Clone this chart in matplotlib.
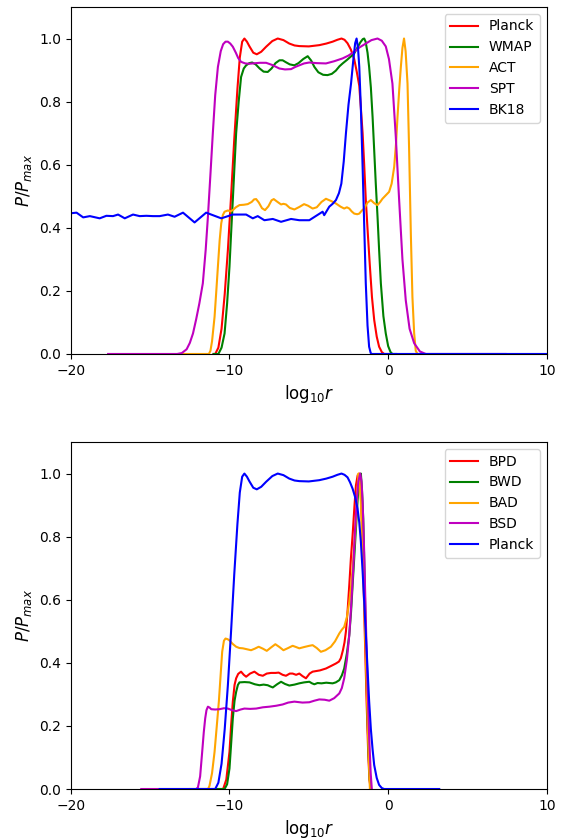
import matplotlib
matplotlib.use('Agg')
import matplotlib.pyplot as plt

#top panel: posteriors for the single experiments
planck_x = [-11.0, -10.9, -10.7, -10.5, -10.3, -10.1, -9.9, -9.7, -9.5, -9.35, -9.2, -9.06, -8.9, -8.74, -8.5, -8.28,
            -8.0, -7.69, -7.3, -6.96, -6.6, -6.23, -5.9, -5.6, -5.0, -4.34, -3.9, -3.5, -3.2, -2.94, -2.75, -2.56,
            -2.35, -2.14, -1.98, -1.82, -1.72, -1.61, -1.51, -1.41, -1.28, -1.15, -1.02, -0.88, -0.72, -0.57, -0.4,
            -0.25, 0.0]
planck_y = [0, 0, 0.02, 0.08, 0.19, 0.33, 0.50, 0.68, 0.84, 0.94, 0.99, 1.0, 0.99, 0.975, 0.955, 0.95,
            0.958, 0.974, 0.992, 1.0, 0.995, 0.984, 0.978, 0.976, 0.975, 0.979, 0.984, 0.99, 0.996, 1.0, 0.996, 0.985,
            0.965, 0.935, 0.895, 0.85, 0.78, 0.70, 0.60, 0.49, 0.38, 0.277, 0.18, 0.108, 0.055, 0.023, 0.006,
            0.0, 0.0]

wmap_x = [-11.0, -10.7, -10.5, -10.31, -10.15, -10.0, -9.9, -9.79, -9.68, -9.58, -9.42, -9.27, -9.1, -8.95, -8.75,
          -8.57, -8.35, -8.1, -7.85, -7.59, -7.35, -7.1, -6.85, -6.65, -6.45, -6.2, -5.91, -5.65, -5.35, -5.07,
          -4.85, -4.65, -4.4, -4.1, -3.82, -3.55, -3.3, -3.07, -2.87, -2.6, -2.35, -2.14, -1.95, -1.75, -1.6,
          -1.51, -1.42, -1.3, -1.2, -1.09, -0.98, -0.88, -0.78, -0.67, -0.57, -0.46, -0.3, -0.15, 0.0, 0.15,
          0.27, 0.5]
wmap_y = [0, 0, 0.02, 0.065, 0.16, 0.277, 0.38, 0.488, 0.60, 0.70, 0.80, 0.878, 0.905, 0.915, 0.922,
          0.924, 0.918, 0.905, 0.895, 0.894, 0.905, 0.922, 0.931, 0.931, 0.925, 0.918, 0.915, 0.922, 0.935, 0.944,
          0.93, 0.91, 0.893, 0.885, 0.884, 0.888, 0.898, 0.912, 0.921, 0.932, 0.943, 0.953, 0.97, 0.988, 0.998,
          1.0, 0.99, 0.955, 0.91, 0.845, 0.75, 0.646, 0.54, 0.435, 0.33, 0.224, 0.12, 0.065, 0.025, 0.006,
          0.0, 0.0]

act_x = [-13.0, -11.3, -11.2, -11.1, -10.94, -10.83, -10.73, -10.62, -10.52, -10.42, -10.31, -10.1, -9.95, -9.79,
         -9.6, -9.37, -9.1, -8.85, -8.6, -8.45, -8.32, -8.15, -7.95, -7.76, -7.55, -7.35, -7.21, -7.0, -6.75,
         -6.6, -6.44, -6.2, -5.91, -5.6, -5.3, -5.05, -4.76, -4.5, -4.2, -3.92, -3.6, -3.29, -3.0, -2.77, -2.6,
         -2.45, -2.3, -2.14, -1.95, -1.82, -1.65, -1.51, -1.3, -1.09, -0.88, -0.67, -0.5, -0.36, -0.15, 0.06,
         0.22, 0.38, 0.5, 0.59, 0.7, 0.8, 0.9, 1.0, 1.1, 1.22, 1.32, 1.43, 1.53, 1.64, 1.74, 1.85, 2.3]
act_y = [0, 0, 0.01, 0.04, 0.118, 0.2, 0.277, 0.36, 0.414, 0.44, 0.451, 0.455, 0.452, 0.456,
         0.465, 0.472, 0.473, 0.475, 0.482, 0.49, 0.491, 0.48, 0.462, 0.456, 0.468, 0.487, 0.491, 0.483, 0.474,
         0.476, 0.474, 0.463, 0.458, 0.466, 0.475, 0.47, 0.461, 0.465, 0.482, 0.492, 0.485, 0.477, 0.467, 0.461,
         0.465, 0.461, 0.452, 0.445, 0.443, 0.445, 0.455, 0.461, 0.48, 0.488, 0.478, 0.472, 0.482, 0.492, 0.503,
         0.514, 0.54, 0.593, 0.67, 0.752, 0.84, 0.91, 0.97, 1.0, 0.96, 0.857, 0.65, 0.38, 0.18, 0.065, 0.01,
         0.0, 0.0]

spt_x = [-17.65, -13.3, -13.0, -12.7, -12.5, -12.3, -12.1, -11.9, -11.68, -11.5, -11.36, -11.2, -11.05, -10.9,
         -10.73, -10.55, -10.4, -10.25, -10.1, -9.95, -9.79, -9.6, -9.45, -9.27, -9.0, -8.75, -8.53, -8.1, -7.69,
         -7.3, -6.86, -6.5, -6.12, -5.85, -5.6, -5.3, -4.97, -4.5, -3.92, -3.4, -2.87, -2.5, -2.14, -1.8, -1.41,
         -1.05, -0.67, -0.4, -0.15, 0.05, 0.27, 0.48, 0.69, 0.9, 1.11, 1.35, 1.64, 2.0, 2.37, 7.4]
spt_y = [0, 0, 0.003, 0.015, 0.035, 0.065, 0.11, 0.16, 0.224, 0.33, 0.435, 0.57, 0.70, 0.82,
         0.91, 0.96, 0.982, 0.99, 0.99, 0.984, 0.974, 0.955, 0.938, 0.926, 0.921, 0.92, 0.921, 0.923, 0.923,
         0.916, 0.905, 0.902, 0.903, 0.91, 0.915, 0.921, 0.924, 0.922, 0.921, 0.928, 0.937, 0.946, 0.958, 0.972,
         0.984, 0.995, 1.0, 0.993, 0.975, 0.935, 0.857, 0.69, 0.49, 0.30, 0.17, 0.08, 0.034, 0.008, 0.0, 0.0]

bk18_x = [-20, -19.64, -19.22, -18.8, -18.18, -17.76, -17.34, -17.02, -16.6, -16.08, -15.66, -15.24, -14.82,
          -14.4, -13.88, -13.46, -12.93, -12.2, -11.47, -10.52, -9.79, -8.95, -8.53, -8.22, -7.8, -7.27, -6.75,
          -6.12, -5.6, -4.97, -4.13, -4.03, -3.71, -3.5, -3.29, -3.1, -2.95, -2.8, -2.66, -2.5, -2.34, -2.2,
          -2.08, -1.99, -1.9, -1.82, -1.72, -1.61, -1.51, -1.41, -1.3, -1.2, -1.1, -1.03, 10]
bk18_y = [0.446, 0.448, 0.433, 0.437, 0.430, 0.438, 0.437, 0.442, 0.430, 0.442, 0.437, 0.438, 0.437,
          0.437, 0.442, 0.435, 0.448, 0.417, 0.448, 0.430, 0.442, 0.442, 0.430, 0.437, 0.424, 0.428, 0.419,
          0.428, 0.424, 0.424, 0.451, 0.44, 0.467, 0.476, 0.488, 0.51, 0.54, 0.61, 0.70, 0.79, 0.857, 0.93,
          0.985, 1.0, 0.97, 0.91, 0.78, 0.593, 0.41, 0.224, 0.09, 0.023, 0.003, 0.0, 0.0]

#bottom panel: combined posteriors
bpd_x = [-12.0, -10.4, -10.2, -10.0, -9.9, -9.79, -9.68, -9.58, -9.45, -9.27, -9.1, -8.95, -8.7, -8.43, -8.15,
         -7.9, -7.65, -7.38, -7.1, -6.9, -6.65, -6.44, -6.2, -6.02, -5.8, -5.6, -5.4, -5.18, -4.95, -4.76, -4.3,
         -3.92, -3.6, -3.29, -3.1, -2.98, -2.85, -2.75, -2.66, -2.55, -2.45, -2.35, -2.24, -2.12, -2.03, -1.92,
         -1.82, -1.74, -1.66, -1.56, -1.47, -1.36, -1.26, -1.18, -1.1]
bpd_y = [0, 0, 0.03, 0.118, 0.2, 0.277, 0.33, 0.351, 0.365, 0.372, 0.362, 0.356, 0.366, 0.372, 0.362,
         0.359, 0.366, 0.368, 0.368, 0.369, 0.362, 0.359, 0.366, 0.366, 0.362, 0.366, 0.358, 0.351, 0.366, 0.372, 0.376,
         0.382, 0.39, 0.398, 0.404, 0.415, 0.44, 0.465, 0.50, 0.57, 0.646, 0.73, 0.805, 0.9, 0.963, 0.995,
         1.0, 0.95, 0.857, 0.68, 0.488, 0.28, 0.118, 0.03, 0.0]

bwd_x = [-12.0, -10.31, -10.15, -10.0, -9.9, -9.79, -9.68, -9.58, -9.47, -9.37, -9.05, -8.74, -8.4, -8.11, -7.85,
         -7.59, -7.42, -7.27, -7.0, -6.75, -6.5, -6.23, -5.9, -5.6, -5.3, -4.97, -4.8, -4.65, -4.45, -4.2, -3.9,
         -3.5, -3.3, -3.08, -2.92, -2.77, -2.6, -2.45, -2.34, -2.24, -2.13, -2.03, -1.92, -1.82, -1.72, -1.65,
         -1.57, -1.49, -1.41, -1.33, -1.24, -1.16, -1.09]
bwd_y = [0, 0, 0.015, 0.065, 0.14, 0.224, 0.28, 0.308, 0.33, 0.338, 0.339, 0.338, 0.332, 0.329, 0.331,
         0.329, 0.325, 0.322, 0.332, 0.340, 0.333, 0.328, 0.331, 0.335, 0.338, 0.340, 0.335, 0.332, 0.336, 0.335, 0.337,
         0.335, 0.338, 0.345, 0.36, 0.382, 0.43, 0.488, 0.56, 0.646, 0.74, 0.826, 0.92, 0.984, 1.0, 0.95,
         0.857, 0.68, 0.488, 0.29, 0.118, 0.03, 0.0]

bad_x = [-12.5, -11.35, -11.26, -11.1, -10.94, -10.8, -10.67, -10.56, -10.46, -10.35, -10.25, -10.12, -10.0, -9.8,
         -9.58, -9.38, -9.16, -8.9, -8.64, -8.4, -8.16, -7.9, -7.65, -7.4, -7.11, -6.85, -6.6, -6.3, -6.02, -5.8,
         -5.6, -5.3, -4.97, -4.76, -4.5, -4.24, -3.95, -3.61, -3.35, -3.08, -2.92, -2.77, -2.6, -2.45, -2.34,
         -2.24, -2.13, -2.03, -1.95, -1.87, -1.8, -1.72, -1.62, -1.51, -1.4, -1.3, -1.22, -1.15]
bad_y = [0, 0, 0.01, 0.05, 0.118, 0.2, 0.277, 0.36, 0.435, 0.47, 0.477, 0.475, 0.471, 0.46,
         0.451, 0.447, 0.446, 0.443, 0.440, 0.445, 0.451, 0.445, 0.438, 0.448, 0.459, 0.45, 0.440, 0.447, 0.454, 0.45,
         0.446, 0.45, 0.454, 0.456, 0.447, 0.435, 0.44, 0.451, 0.468, 0.493, 0.505, 0.514, 0.545, 0.593, 0.64,
         0.70, 0.78, 0.857, 0.94, 1.0, 0.98, 0.91, 0.77, 0.593, 0.4, 0.224, 0.09, 0.0]

bsd_x = [-15.56, -12.1, -11.99, -11.85, -11.72, -11.62, -11.53, -11.45, -11.36, -11.25, -11.15, -10.9, -10.63,
         -10.35, -10.1, -9.85, -9.58, -9.3, -9.06, -8.7, -8.32, -7.9, -7.48, -7.05, -6.65, -6.3, -5.91, -5.4,
         -4.97, -4.65, -4.34, -4.0, -3.71, -3.4, -3.08, -2.92, -2.77, -2.6, -2.45, -2.32, -2.2, -2.1, -1.99,
         -1.88, -1.76, -1.68, -1.61, -1.51, -1.41, -1.3, -1.2, -1.1, -1.03]
bsd_y = [0, 0, 0.005, 0.04, 0.118, 0.18, 0.224, 0.25, 0.261, 0.258, 0.253, 0.252, 0.253,
         0.256, 0.255, 0.25, 0.247, 0.252, 0.255, 0.254, 0.255, 0.259, 0.261, 0.264, 0.268, 0.274, 0.277, 0.274,
         0.275, 0.28, 0.284, 0.283, 0.280, 0.288, 0.303, 0.32, 0.351, 0.41, 0.488, 0.59, 0.70, 0.81, 0.91,
         0.975, 1.0, 0.975, 0.91, 0.75, 0.541, 0.33, 0.17, 0.05, 0.0]

planck2_x = [-14.4, -10.9, -10.7, -10.5, -10.3, -10.1, -9.9, -9.7, -9.5, -9.35, -9.2, -9.06, -8.9, -8.74, -8.5,
             -8.28, -8.0, -7.69, -7.3, -6.96, -6.6, -6.23, -5.9, -5.6, -5.0, -4.34, -3.9, -3.5, -3.2, -2.94, -2.75,
             -2.56, -2.4, -2.24, -2.08, -1.93, -1.82, -1.72, -1.61, -1.51, -1.4, -1.3, -1.2, -1.09, -0.98, -0.88,
             -0.72, -0.57, -0.4, -0.25, 3.22]
planck2_y = [0, 0, 0.02, 0.08, 0.19, 0.33, 0.50, 0.68, 0.84, 0.94, 0.99, 1.0, 0.99, 0.975, 0.955,
             0.95, 0.958, 0.974, 0.992, 1.0, 0.995, 0.984, 0.978, 0.976, 0.975, 0.979, 0.984, 0.99, 0.996, 1.0, 0.996,
             0.988, 0.972, 0.952, 0.925, 0.889, 0.845, 0.784, 0.69, 0.593, 0.485, 0.382, 0.28, 0.19, 0.125, 0.076,
             0.035, 0.013, 0.003, 0.0, 0.0]

top_curves = [(planck_x, planck_y, 'red', 'Planck'),
              (wmap_x, wmap_y, 'green', 'WMAP'),
              (act_x, act_y, 'orange', 'ACT'),
              (spt_x, spt_y, 'm', 'SPT'),
              (bk18_x, bk18_y, 'blue', 'BK18')]
bottom_curves = [(bpd_x, bpd_y, 'red', 'BPD'),
                 (bwd_x, bwd_y, 'green', 'BWD'),
                 (bad_x, bad_y, 'orange', 'BAD'),
                 (bsd_x, bsd_y, 'm', 'BSD'),
                 (planck2_x, planck2_y, 'blue', 'Planck')]

fig = plt.figure(figsize=(5.62, 8.4), dpi=100)
ax1 = fig.add_axes([0.126, 0.5786, 0.847, 0.4131])
ax2 = fig.add_axes([0.126, 0.0607, 0.847, 0.4131])

for ax, curves in [(ax1, top_curves), (ax2, bottom_curves)]:
    for xs, ys, col, lab in curves:
        ax.plot(xs, ys, color=col, label=lab, lw=1.5)
    ax.set_xlim(-20, 10)
    ax.set_ylim(0, 1.1)
    ax.set_xticks([-20, -10, 0, 10])
    ax.set_xlabel(r'$\mathrm{log}_{10}r$', fontsize=12)
    ax.set_ylabel(r'$P/P_{max}$', fontsize=12)
    ax.legend(loc='upper right')

plt.savefig('out.png', dpi=100)
